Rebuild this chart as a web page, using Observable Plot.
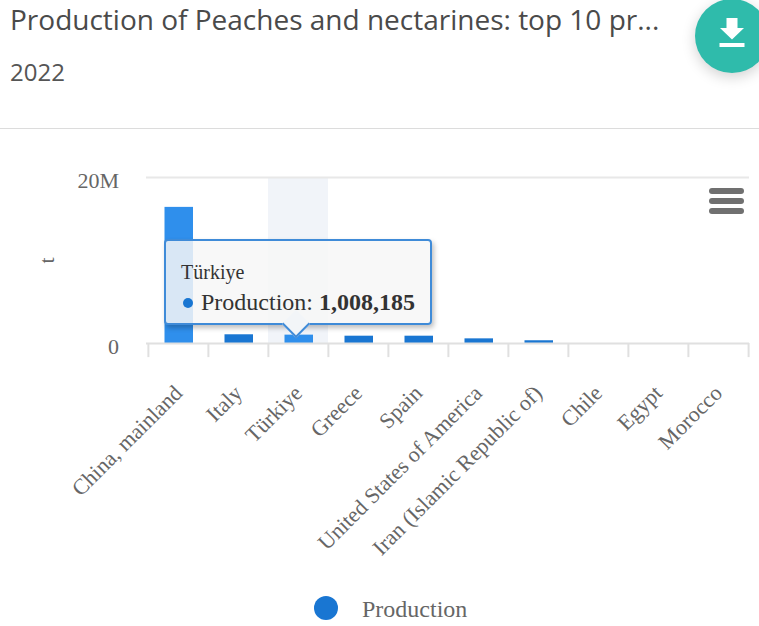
<!DOCTYPE html>
<html><head><meta charset="utf-8">
<script src="https://cdn.jsdelivr.net/npm/d3@7"></script>
<script src="https://cdn.jsdelivr.net/npm/@observablehq/plot@0.6"></script>
<style>
html,body{margin:0;padding:0;background:#fff;width:759px;height:626px;overflow:hidden}
#head{height:128px;border-bottom:1px solid #dcdcdc;position:relative;font-family:"Open Sans",sans-serif;color:#4a4a4a}
#title{position:absolute;left:10px;top:1px;font-size:28px;line-height:36px;white-space:nowrap}
#sub{position:absolute;left:10px;top:56px;font-size:24px;line-height:32px;color:#555}
#fab{position:absolute;left:695px;top:-1px;width:74px;height:74px;border-radius:50%;background:#2fbbab;box-shadow:0 4px 14px rgba(0,0,0,.18)}
#fab svg{position:absolute;left:24px;top:19px}
#chart{position:absolute;left:0;top:129px}
#chart svg text{font-family:"Liberation Serif",serif}
#menu{position:absolute;left:709px;top:188px;width:35px}
#menu i{display:block;height:6px;border-radius:3px;background:#707070;margin-bottom:4px}
#tip{position:absolute;left:164px;top:239px;width:264px;height:82px;border:2px solid #3f8bd8;border-radius:4px;background:rgba(247,247,247,.85);box-shadow:2px 3px 5px rgba(0,0,0,.25);font-family:"Liberation Serif",serif;color:#333}
#tip .n{position:absolute;left:15px;top:20px;font-size:20px;line-height:22px}
#tip .v{position:absolute;left:35px;top:47px;font-size:24px;line-height:28px;white-space:nowrap}
#tip .d{position:absolute;left:17px;top:57px;width:10px;height:10px;border-radius:50%;background:#1976d2}
#arrow{position:absolute;left:286px;top:314px;width:18px;height:18px;transform:rotate(45deg);background:#f2f5f8;border-right:2px solid #3f8bd8;border-bottom:2px solid #3f8bd8}
#legend{position:absolute;left:0;top:589px;width:759px;height:36px;font-family:"Liberation Serif",serif;font-size:24px;color:#666}
#legend b{position:absolute;left:314px;top:7px;width:24px;height:24px;border-radius:50%;background:#1976d2}
#legend span{position:absolute;left:362px;top:6px;line-height:28px}
</style></head>
<body>
<div id="head">
  <div id="title">Production of Peaches and nectarines: top 10 pr...</div>
  <div id="sub">2022</div>
  <div id="fab"><svg width="26" height="30" viewBox="0 0 26 30"><path fill="#fff" d="M7.500 0H18.500V10H25L13 21.500L1 10H7.500Z"/><rect x="0.500" y="25" width="25" height="4" fill="#fff"/></svg></div>
</div>
<div id="chart"></div>
<div id="menu"><i></i><i></i><i></i></div>
<div id="tip"></div>
<div id="arrow"></div>
<div id="legend"><b></b><span></span></div>
<script>
const categories = ["China, mainland","Italy","Türkiye","Greece","Spain","United States of America","Iran (Islamic Republic of)","Chile","Egypt","Morocco"];
const production = [16400000,1050000,1008185,880000,880000,560000,330000,0,0,0];
const yTicks = [0,20000000];
const yLabels = ["0","20M"];
const brighter = ["China, mainland","Türkiye"];
const hovered = "Türkiye";
const seriesName = "Production";
const unit = "t";

const rows = categories.map((c,i)=>({category:c,value:production[i]}));
const step = 60.2;
const tickBelow = -1700000;
const plot = Plot.plot({
  width:759, height:461,
  marginLeft:146, marginRight:10, marginTop:48, marginBottom:247,
  x:{domain:categories, padding:0, label:null},
  y:{domain:[0,20000000], label:null},
  marks:[
    Plot.barY([hovered],{x:d=>d, y1:0, y2:20000000, fill:"#f1f4f9"}),
    Plot.ruleY([20000000],{stroke:"#e8e8e8",strokeWidth:2}),
    Plot.barY(rows,{x:"category", y:"value", insetLeft:16.500, insetRight:15,
      fill:d=>brighter.includes(d.category)?"#2f8fec":"#1976d2"}),
    Plot.ruleY([0],{stroke:"#e0e0e0",strokeWidth:2}),
    Plot.ruleX(categories,{x:d=>d, y1:0, y2:tickBelow, dx:-step/2, stroke:"#e0e0e0", strokeWidth:2}),
    Plot.ruleX(categories.slice(-1),{x:d=>d, y1:0, y2:tickBelow, dx:step/2, stroke:"#e0e0e0", strokeWidth:2}),
    Plot.axisY({ticks:yTicks, tickSize:0, tickPadding:27.500, fontSize:22, color:"#666", dy:3.500,
      tickFormat:d=>yLabels[yTicks.indexOf(d)], label:unit, labelAnchor:"center", labelArrow:"none", labelOffset:108}),
    Plot.axisX({tickRotate:-45, tickSize:0, tickPadding:46, fontSize:22, color:"#666", label:null})
  ],
  style:{background:"transparent",overflow:"visible"}
});
plot.querySelectorAll("text").forEach(t=>t.style.fill="#666");
document.getElementById("chart").append(plot);
const i = categories.indexOf(hovered);
document.getElementById("tip").innerHTML =
  `<div class="n">${hovered}</div><span class="d"></span><div class="v">${seriesName}: <b>${d3.format(",")(production[i])}</b></div>`;
document.querySelector("#legend span").textContent = seriesName;
</script>
</body></html>
